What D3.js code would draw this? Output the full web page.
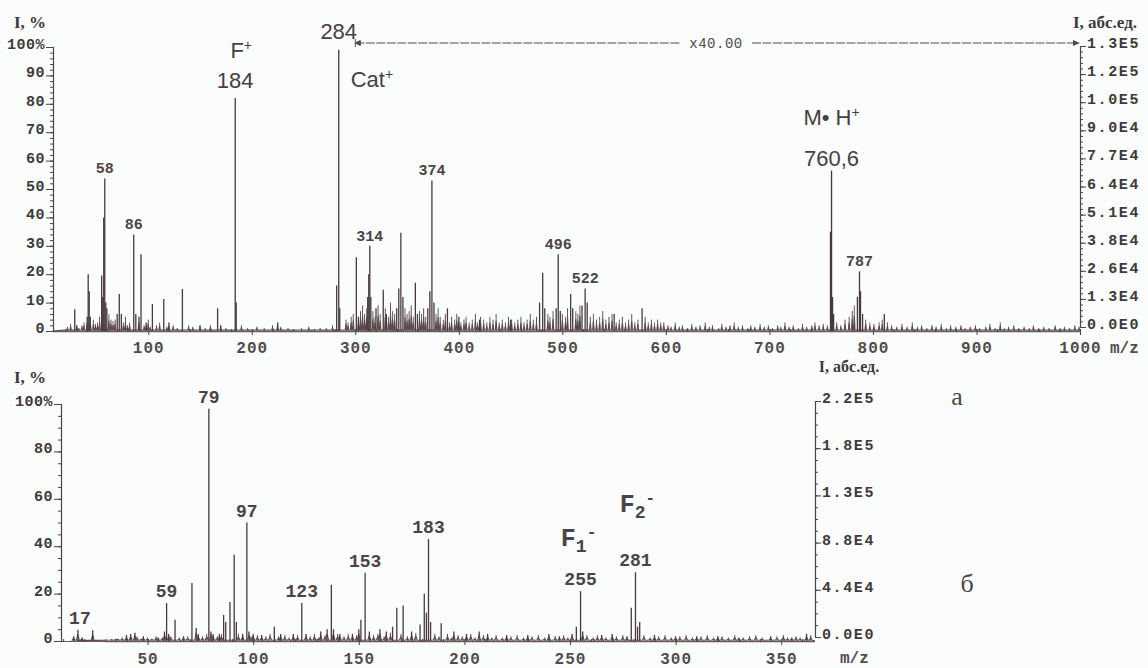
<!DOCTYPE html>
<html><head><meta charset="utf-8">
<script src="https://cdn.jsdelivr.net/npm/d3@7"></script>
<style>body{margin:0;background:#fbfcfc}svg{display:block}</style>
</head><body>
<svg id="c" width="1148" height="668"></svg>
<script>
// ---------- DATA ----------
// Panel a (positive ions): main peaks [m/z, I %]
const topPeaks = [
[29,7.7],[31,2],[41,5],[42,20],[43,14],[44,5],[55,19.5],[56,12],[57,40],[58,53.7],[59,10],[60,8],
[70,6],[72,13],[74,6],[86,34],[88,6],[91,5],[93,27],[98,3],[104,9.5],[115,11.3],[120,3],[133,14.8],
[150,2],[167,8],[170,2],[184,82],[185,10],[225,3],[282,16],[284,99],[285,8],
[301,26],[303,5],[312,12],[313,20],[314,30],[315,12],[320,8],[327,14.5],[330,6],[340,8],[342,15],
[344,34.6],[346,12],[358,17],[360,6],[370,8],[372,14],[374,53],[376,10],[389,8],[400,5],[420,4],
[450,4],[478,10],[481,20.5],[483,8],[494,8],[496,27],[498,7],[508,13],[510,8],[519,9],[522,15],
[524,10],[550,6],[577,8],[759,35],[760,56.5],[761,12],[762,6],[785,12],[787,21],[788,14],[790,6],[811,6]
];
// Panel a: low-level background peaks [m/z, I %]
const topGrass = [
[22,1.5],[25,2.5],[33,1],[36,2],[38,3],[47,4],[49,2.5],[51,3],[53,5],[62,6],[64,4],[66,3.5],[68,4],
[76,3],[78,5],[80,2],[82,3],[96,2],[100,4],[102,1.5],[108,2],[111,3],[118,1.5],[124,2],[128,1],
[139,2],[143,1.5],[155,1],[160,2],[175,1],[190,2],[196,1],[205,1.5],[212,1],[220,2],[228,1.5],
[235,1],[248,1],[255,1.5],[266,1],[272,1],[278,2],
[291,4],[293,3],[296,5],[298,6],[305,7],[307,9],[309,6],[311,8],[317,7],[319,5],[322,9],[324,6],
[329,8],[332,5],[334,10],[336,7],[338,6],[348,8],[350,6],[352,7],[354,9],[356,5],[362,7],[364,6],
[366,8],[368,5],[378,6],[380,8],[382,5],[385,4],[387,6],[391,3],[393,5],[396,4],[398,6],[402,3],
[405,4],[407,5],[410,3],[413,4],[416,6],[418,3],[421,5],[424,4],[427,3],[430,5],[433,4],[436,6],
[439,3],[442,4],[445,3],[448,5],[451,4],[454,3],[457,4],[460,5],[463,3],[466,4],[469,6],[472,4],
[475,5],[486,6],[488,5],[491,7],[500,6],[503,5],[505,8],[513,7],[515,6],[517,9],[527,5],[530,6],
[533,4],[536,5],[539,7],[542,4],[545,5],[548,6],[552,3],[555,4],[558,5],[561,3],[564,4],[567,6],
[570,3],[573,4],[580,5],[583,3],[586,4],[589,3],[592,4],[595,3],[598,3],
[602,2],[605,1.5],[609,3],[613,1.5],[616,2],[621,1],[625,2.5],[629,1.5],[633,2],[638,3],[642,1.5],
[645,2],[651,1],[654,2.5],[658,1.5],[662,2],[666,3],[670,1.5],[674,2],[679,1],[682,2],[686,1.5],
[691,2.5],[695,1.5],[699,2],[703,1],[708,2],[711,1.5],[715,3],[719,1.5],[723,2],[728,1],[732,2.5],
[736,1.5],[741,2],[744,3],[748,2],[752,2.5],[756,2],[765,3],[769,2],[773,4],[777,5],[780,7],[782,9],
[793,4],[797,3],[801,2.5],[806,3],[809,4],[814,3],[818,2],[823,1.5],[828,2.5],[833,1.5],[838,3],
[843,1.5],[847,2],[852,1],[857,2],[861,1.5],[866,2.5],[871,1],[875,2],[880,1.5],[885,2],[889,1],
[894,1.5],[899,2],[903,1],[909,1.5],[913,2.5],[918,1],[923,3],[927,1],[931,1.5],[936,2],[941,1],
[946,1.5],[951,1],[955,2],[960,1],[965,1.5],[970,1],[976,2],[981,1],[985,1.5],[990,1],[995,2],[999,1.5]
];
const topSmallLabels = ["58","86","314","374","496","522","787"];
const topSmallLabelMz = [58,86,314,374,496,522,787];
const topXTicks = [100,200,300,400,500,600,700,800,900,1000];
const topYTicks = [0,10,20,30,40,50,60,70,80,90,100];
const topYLabels = ["0","10","20","30","40","50","60","70","80","90","100%"];
const topRightLabels = ["0.0E0","1.3E4","2.6E4","3.8E4","5.1E4","6.4E4","7.7E4","9.0E4","1.0E5","1.2E5","1.3E5"];
const topRightMax = 128000;
const magnifyFrom = 300, magnifyText = "x40.00";

// Panel б (negative ions)
const botPeaks = [
[15,2],[17,4.7],[19,1.5],[24,4.5],[35,1],[40,2.5],[42,3],[44,3.5],[48,2],[55,1.5],[58,4],[59,16],[60,3],
[63,9],[67,2],[71,24.5],[73,5.5],[74,3],[79,98],[80,4],[81,3],[84,3],[86,11],[87,8],[89,16.5],[91,36.4],
[92,8],[95,3],[97,50],[98,4],[100,3],[104,2.5],[110,6],[113,3],[119,3],[123,16],[125,3],[132,4],[135,5],
[137,23.7],[138,5],[141,3],[147,3],[150,5],[151,9],[153,28.8],[155,4],[160,5],[163,4],[166,6],[168,14],
[171,15],[175,4],[179,7],[181,20],[182,12],[183,43],[184,8],[189,7.5],[195,4],[201,3],[207,4],[211,3],
[220,2.5],[230,2.5],[240,3],[245,2],[251,3],[253,6],[255,21],[256,4],[265,2.5],[270,3],[277,2],[279,14],
[281,29],[282,6],[283,8],[290,2.5],[300,2],[310,2],[320,2],[330,1.5],[345,2],[355,1.5],[362,3]
];
const botGrass = [
[33,0.8],[36,1],[38,1.5],[45,2],[47,1],[50,1.5],[52,1],[54,2],[57,1.5],[61,2],[65,1.5],[69,2],[76,2],
[78,3],[83,2],[85,3],[93,3],[99,2],[102,2.5],[106,2],[108,3],[112,2],[115,2.5],[117,1.5],[121,2.5],[127,2],
[129,3],[131,1.5],[134,2.5],[140,3],[143,2],[145,3],[149,2.5],[157,2.5],[159,3],[162,2],[165,3.5],[170,3],
[173,2],[177,3.5],[186,3],[188,2],[192,3],[194,1.5],[197,2.5],[199,2],[203,3],[205,1.5],[209,2.5],[213,1.5],
[215,2.5],[218,1.5],[222,2],[225,2.5],[228,1.5],[232,2],[235,2.5],[238,1.5],[243,2],[247,2.5],[249,1.5],[258,2.5],
[261,1.5],[263,2.5],[267,1.5],[272,2],[275,2.5],[285,2.5],[288,1.5],[292,2],[295,2.5],[298,1.5],[302,2],[305,2.5],
[308,1.5],[312,2],[315,2.5],[318,1.5],[322,2],[325,1.5],[328,2.5],[332,1.5],[335,2],[338,2.5],[341,1.5],[348,2],
[351,2.5],[353,1.5],[357,2],[359,1.5],[364,2.5]
];
const botLabels = ["17","59","79","97","123","153","183","255","281"];
const botLabelMz = [17,59,79,97,123,153,183,255,281];
const botXTicks = [50,100,150,200,250,300,350];
const botYTicks = [0,20,40,60,80,100];
const botYLabels = ["0","20","40","60","80","100%"];
const botRightLabels = ["0.0E0","4.4E4","8.8E4","1.3E5","1.8E5","2.2E5"];
const botRightMax = 220000;

// ---------- DRAW ----------
const svg = d3.select("#c");
const INK = "#463a3d", TXT = "#3d3a3b";
const mono = "'Liberation Mono','DejaVu Sans Mono',monospace";
const sans = "'Liberation Sans',Arial,sans-serif";
const serif = "'Liberation Serif','Times New Roman',serif";
const grassCols = ["#6e4c4f","#4f6a52","#4d4f78","#7a5a48"];

const tX = d3.scaleLinear([8,1000],[53,1080]);
const tY = d3.scaleLinear([0,100],[331,47]);
const tR = d3.scaleLinear([0,topRightMax],[327,46]);
const bX = d3.scaleLinear([9,366],[61,815]);
const bY = d3.scaleLinear([0,100],[641,404]);
const bR = d3.scaleLinear([0,botRightMax],[637,401]);

function drawSpectrum(X, Y, peaks, grass, xMin, xMax) {
  const g = svg.append("g");
  const pts = [[xMin,0]];
  grass.concat(peaks.filter(p=>p[1]<6)).sort((a,b)=>a[0]-b[0]).forEach(p=>{
    pts.push([p[0]-0.7,0.4],[p[0],p[1]*0.6],[p[0]+0.7,0.3]);
  });
  pts.push([xMax,0]);
  g.selectAll("line.gr").data(grass).join("line").attr("class","gr")
    .attr("x1",d=>X(d[0])).attr("x2",d=>X(d[0])).attr("y1",Y(0)).attr("y2",d=>Y(d[1]))
    .attr("stroke",(d,i)=>grassCols[i%4]).attr("stroke-width",1);
  g.append("path").attr("d", d3.line().x(d=>X(d[0])).y(d=>Y(d[1]))(pts))
    .attr("fill","none").attr("stroke","#5b4a4c").attr("stroke-width",1.1);
  g.selectAll("line.pk").data(peaks).join("line").attr("class","pk")
    .attr("x1",d=>X(d[0])).attr("x2",d=>X(d[0])).attr("y1",Y(0)+1).attr("y2",d=>Y(d[1]))
    .attr("stroke",INK).attr("stroke-width",1.3);
  g.append("line").attr("x1",X(xMin)).attr("x2",X(xMax)).attr("y1",Y(0)+0.5).attr("y2",Y(0)+0.5)
    .attr("stroke","#6a5a5c").attr("stroke-width",1.5);
}

function styleAxis(g, size, weight, spacing, color) {
  g.selectAll("path.domain").attr("stroke","#4a4446").attr("stroke-width",1.2);
  g.selectAll(".tick line").attr("stroke","#4a4446");
  g.selectAll("text").attr("font-family",mono).attr("font-size",size).attr("font-weight",weight)
    .attr("fill",color||TXT).attr("letter-spacing",spacing);
}

function yAxes(X0, Y, ticks, labels, minorStep, maxV) {
  const minors = d3.range(0, maxV+0.01, minorStep);
  svg.append("g").attr("transform",`translate(${X0},0)`)
    .call(d3.axisLeft(Y).tickValues(minors).tickSize(3).tickFormat(""))
    .call(g=>styleAxis(g,15,"bold",0));
  const g = svg.append("g").attr("transform",`translate(${X0},0)`)
    .call(d3.axisLeft(Y).tickValues(ticks).tickSize(7).tickPadding(1).tickFormat((d,i)=>labels[i]));
  styleAxis(g,15,"bold",0.5);
  g.selectAll("text").attr("dy","0.1em");
  g.select("path.domain").remove();
}

function rAxes(X0, R, labels, maxV, nMinor) {
  const step = maxV/(labels.length-1);
  const majors = labels.map((l,i)=>i*step);
  const minors = d3.range(0, maxV+1, step/nMinor);
  svg.append("g").attr("transform",`translate(${X0},0)`)
    .call(d3.axisRight(R).tickValues(minors).tickSize(3).tickFormat(""))
    .call(g=>styleAxis(g,15,"bold",0));
  const g = svg.append("g").attr("transform",`translate(${X0},0)`)
    .call(d3.axisRight(R).tickValues(majors).tickSize(6).tickPadding(1).tickFormat((d,i)=>labels[i]));
  styleAxis(g,15,"bold",1.6);
  g.selectAll("text").attr("dy","0.1em");
  g.select("path.domain").remove();
}

function xAxes(X, y0, ticks, minorStep, labelOffset) {
  const [a,b] = X.domain();
  const minors = d3.range(Math.ceil(a/minorStep)*minorStep, b+0.01, minorStep);
  svg.append("g").attr("transform",`translate(0,${y0})`)
    .call(d3.axisTop(X).tickValues(minors).tickSize(3).tickFormat(""))
    .call(g=>{styleAxis(g,15,"bold",0); g.select("path.domain").remove();});
  const g = svg.append("g").attr("transform",`translate(0,${y0})`)
    .call(d3.axisBottom(X).tickValues(ticks).tickSize(3).tickPadding(labelOffset).tickFormat(d3.format("d")));
  styleAxis(g,16,"bold",1,"#514c4d");
  g.select("path.domain").remove();
}

// ===== Panel a =====
drawSpectrum(tX, tY, topPeaks, topGrass, 8, 1000);
yAxes(53, tY, topYTicks, topYLabels, 2, 100);
rAxes(1080, tR, topRightLabels, topRightMax, 5);
xAxes(tX, 332, topXTicks, 20, 7);
svg.append("text").attr("x",1110).attr("y",353).attr("font-family",mono).attr("font-weight","bold")
  .attr("font-size",16).attr("fill","#514c4d").text("m/z");

svg.append("text").attr("x",14).attr("y",28).attr("font-family",serif).attr("font-weight","bold")
  .attr("font-size",17).attr("fill",TXT).text("I, %");
svg.append("text").attr("x",1105).attr("y",28).attr("text-anchor","middle").attr("font-family",serif)
  .attr("font-weight","bold").attr("font-size",17).attr("fill",TXT).text("I, абс.ед.");

// magnification line
const magY = 43;
svg.append("line").attr("x1",tX(magnifyFrom)).attr("x2",680).attr("y1",magY).attr("y2",magY)
  .attr("stroke","#55494b").attr("stroke-width",1.2).attr("stroke-dasharray","9,1.5");
svg.append("line").attr("x1",752).attr("x2",tX(1000)-6).attr("y1",magY).attr("y2",magY)
  .attr("stroke","#55494b").attr("stroke-width",1.2).attr("stroke-dasharray","9,1.5");
svg.append("path").attr("d",`M${tX(1000)-7},${magY-3}L${tX(1000)},${magY}L${tX(1000)-7},${magY+3}Z`).attr("fill","#55494b");
svg.append("path").attr("d",`M${tX(magnifyFrom)},${magY-4}V${magY+4}M${tX(magnifyFrom)},${magY}l5,-2.5v5z`)
  .attr("stroke","#55494b").attr("fill","#55494b").attr("stroke-width",1);
svg.append("text").attr("x",716).attr("y",magY+5).attr("text-anchor","middle").attr("font-family",mono)
  .attr("font-size",14).attr("fill","#4f4a4b").attr("letter-spacing",0.5).text(magnifyText);

// small labels
const pkInt = (arr, mz) => arr.find(p=>p[0]===mz)[1];
topSmallLabels.forEach((t,i)=>{
  const mz = topSmallLabelMz[i];
  svg.append("text").attr("x",tX(mz)).attr("y",tY(pkInt(topPeaks,mz))-5).attr("text-anchor","middle")
    .attr("font-family",mono).attr("font-weight","bold").attr("font-size",15).attr("fill","#4a4446").text(t);
});
// big labels
function big(x,y,html,anchor){
  const t = svg.append("text").attr("x",x).attr("y",y).attr("text-anchor",anchor||"middle")
    .attr("font-family",sans).attr("font-size",22).attr("fill","#464042");
  html(t);
}
const sup = (t,s)=>t.append("tspan").attr("dy","-0.55em").attr("font-size",14).text(s);
big(tX(184)+6, tY(pkInt(topPeaks,184))-40, t=>{t.append("tspan").text("F"); sup(t,"+");});
big(tX(184), tY(pkInt(topPeaks,184))-10, t=>t.text("184"));
big(tX(284), tY(pkInt(topPeaks,284))-11, t=>t.text("284"));
big(tX(284)+12, tY(pkInt(topPeaks,284))+37, t=>{t.append("tspan").text("Cat"); sup(t,"+");}, "start");
big(tX(760), tY(pkInt(topPeaks,760))-46, t=>{t.append("tspan").text("M• H"); sup(t,"+");});
big(tX(760), tY(pkInt(topPeaks,760))-5, t=>t.text("760,6"));

// ===== Panel б =====
drawSpectrum(bX, bY, botPeaks, botGrass, 30, 366);
svg.append("line").attr("x1",bX(9)).attr("x2",bX(30)).attr("y1",bY(0)+0.5).attr("y2",bY(0)+0.5)
  .attr("stroke","#6a5a5c").attr("stroke-width",1.2);
yAxes(61, bY, botYTicks, botYLabels, 5, 100);
rAxes(815, bR, botRightLabels, botRightMax, 4);
xAxes(bX, 642, botXTicks, 10, 8);
svg.append("text").attr("x",840).attr("y",663).attr("font-family",mono).attr("font-weight","bold")
  .attr("font-size",16).attr("fill","#514c4d").text("m/z");
svg.append("text").attr("x",14).attr("y",383).attr("font-family",serif).attr("font-weight","bold")
  .attr("font-size",17).attr("fill",TXT).text("I, %");
svg.append("text").attr("x",849).attr("y",372).attr("text-anchor","middle").attr("font-family",serif)
  .attr("font-weight","bold").attr("font-size",16).attr("fill",TXT).text("I, абс.ед.");
svg.append("text").attr("x",957).attr("y",405).attr("text-anchor","middle").attr("font-family",serif)
  .attr("font-size",26).attr("fill","#4a4547").text("а");
svg.append("text").attr("x",967).attr("y",592).attr("text-anchor","middle").attr("font-family",serif)
  .attr("font-size",26).attr("fill","#4a4547").text("б");

botLabels.forEach((t,i)=>{
  const mz = botLabelMz[i];
  svg.append("text").attr("x",bX(mz)+(mz===17?2:0)).attr("y",bY(pkInt(botPeaks,mz))-6).attr("text-anchor","middle")
    .attr("font-family",mono).attr("font-weight","bold").attr("font-size",18).attr("fill","#4a4446").text(t);
});
function fion(x,y,n){
  const t = svg.append("text").attr("x",x).attr("y",y).attr("text-anchor","middle")
    .attr("font-family",mono).attr("font-weight","bold").attr("font-size",25).attr("fill","#4a4446");
  t.append("tspan").text("F");
  t.append("tspan").attr("dy","0.3em").attr("font-size",18).text(n);
  t.append("tspan").attr("dy","-0.9em").attr("font-size",16).text("-");
}
fion(bX(255)-2, bY(pkInt(botPeaks,255))-45, "1");
fion(bX(281)+2, bY(pkInt(botPeaks,281))-60, "2");
</script>
</body></html>
